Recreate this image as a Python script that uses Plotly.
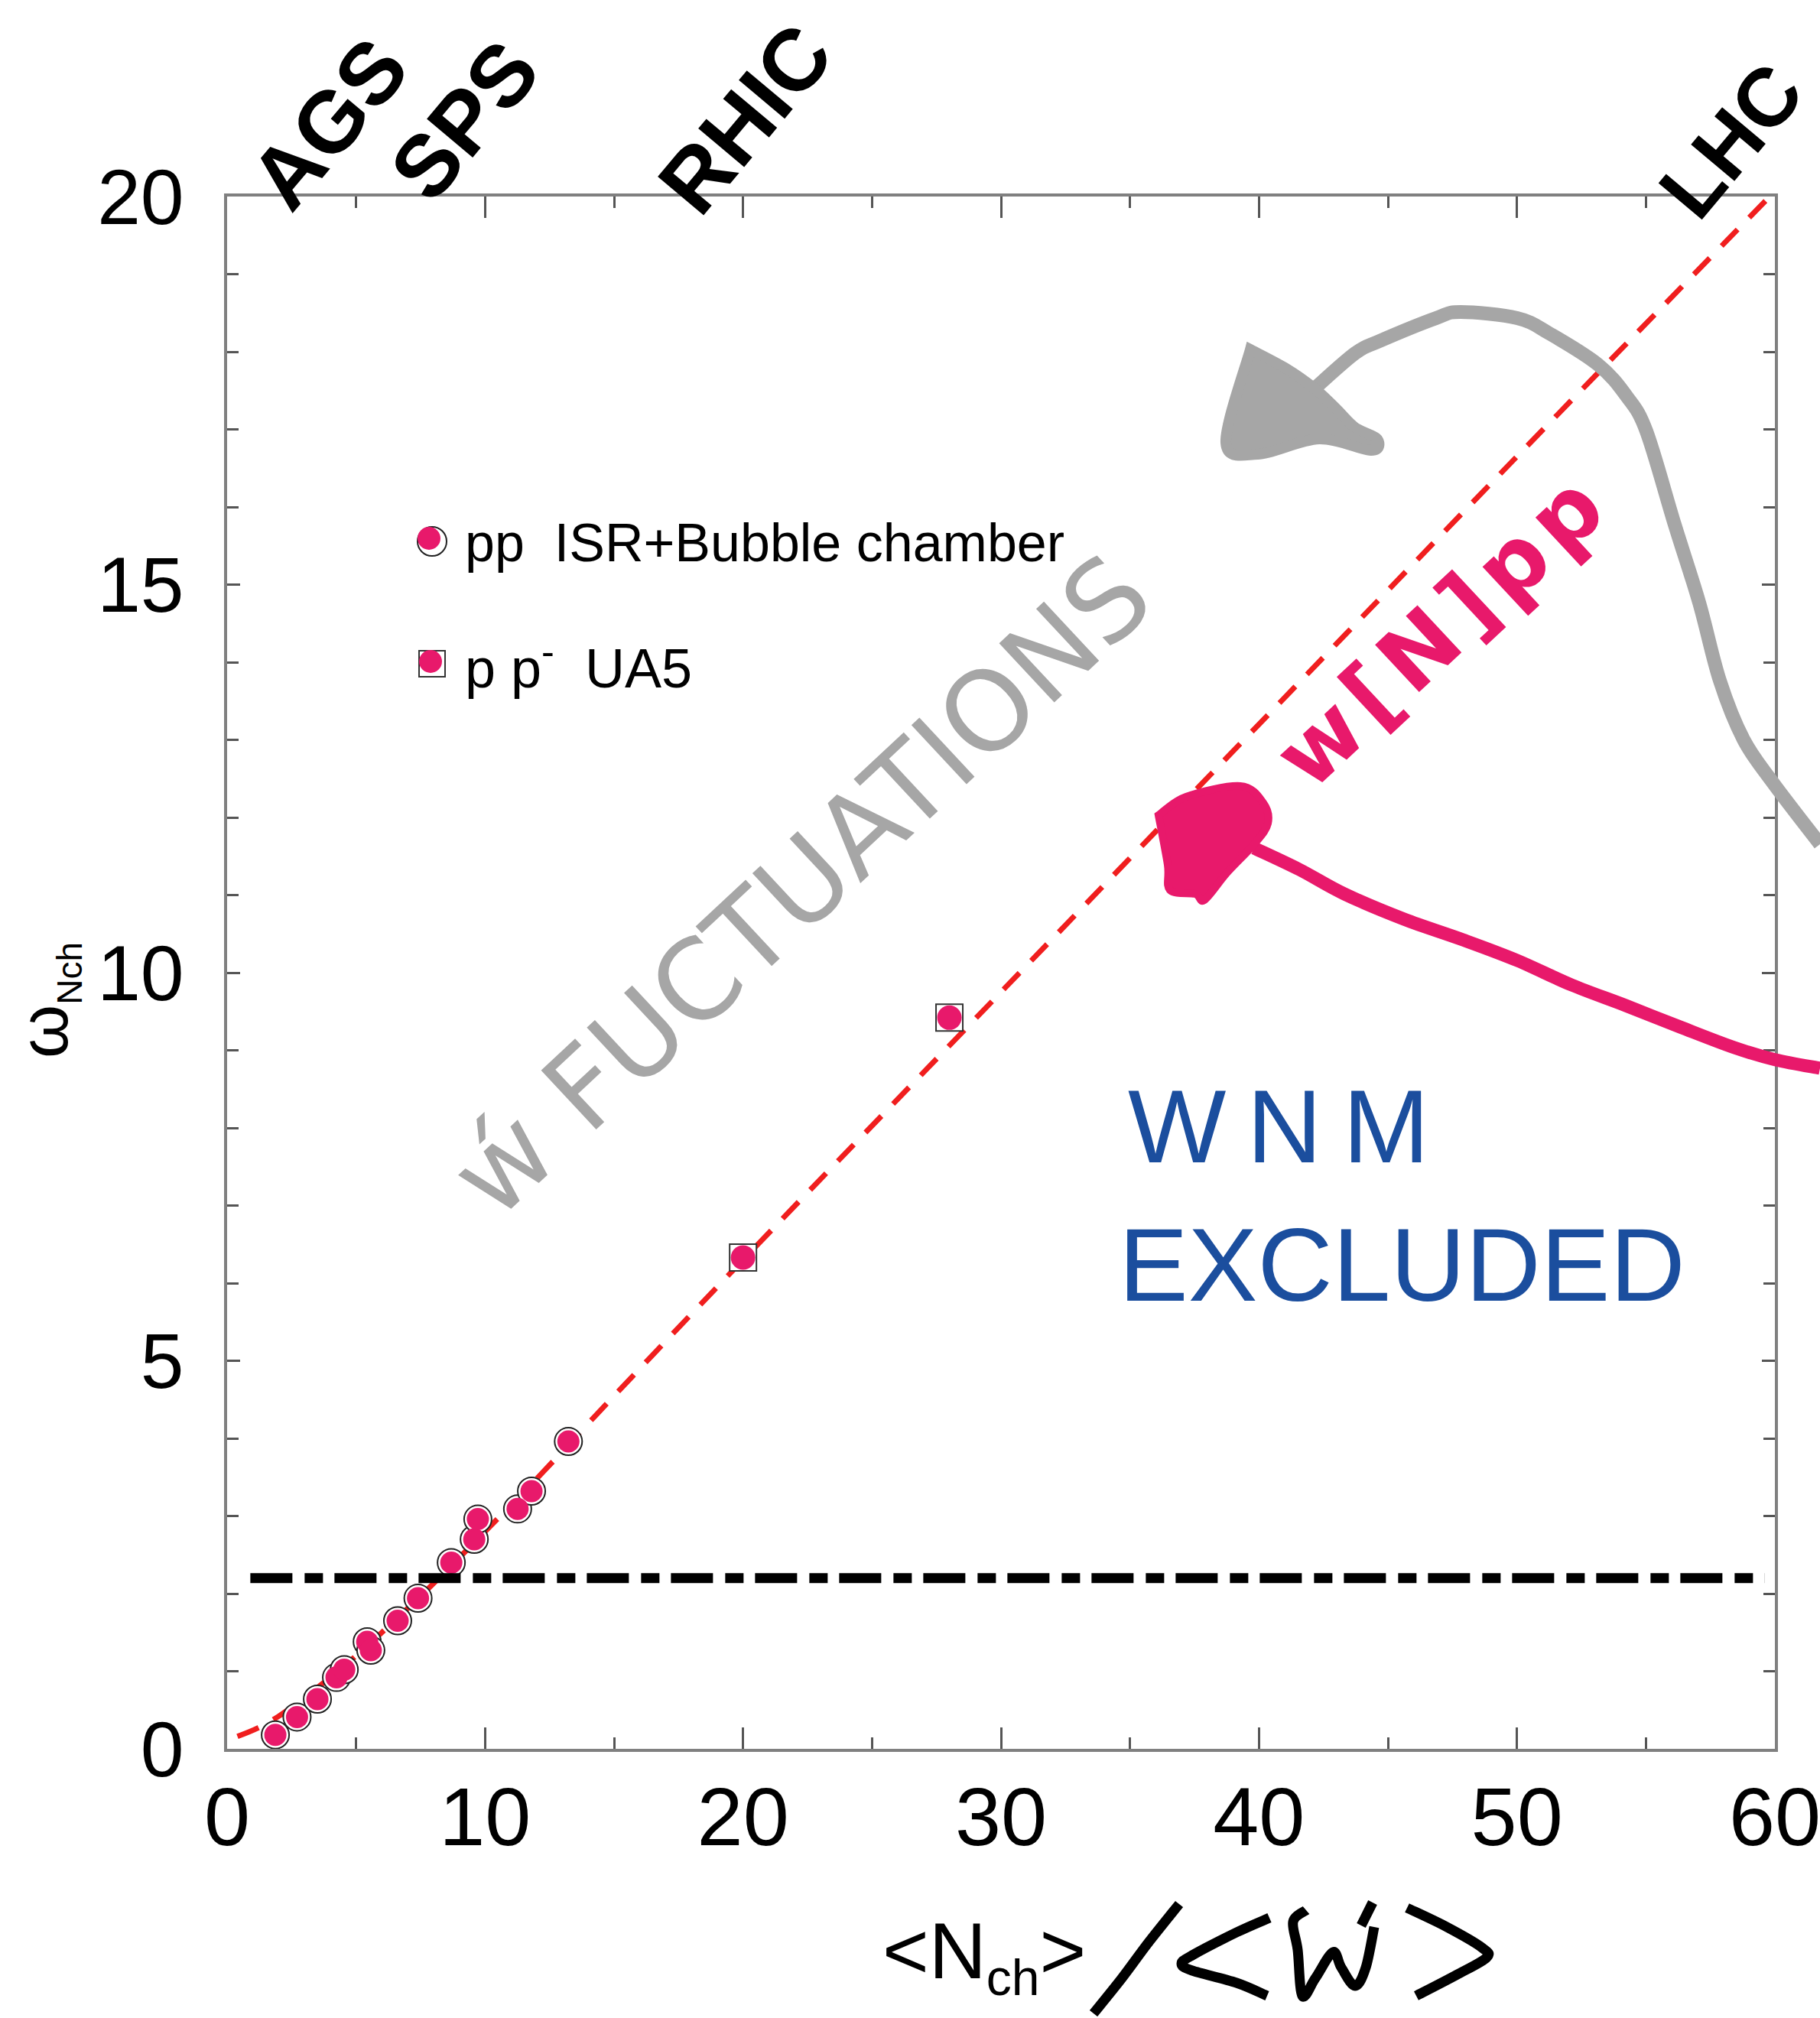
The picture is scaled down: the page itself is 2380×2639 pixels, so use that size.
import plotly.graph_objects as go

# ---------------------------------------------------------------- data ----
# pp ISR + bubble chamber points: <N_ch> vs omega_Nch
isr_n = [1.87, 2.71, 3.50, 4.24, 4.54, 5.43, 5.57, 6.61, 7.40, 8.69, 9.58, 9.72, 11.26, 11.80, 13.23]
isr_omega = [0.18, 0.41, 0.64, 0.92, 1.02, 1.38, 1.27, 1.65, 1.94, 2.40, 2.70, 2.96, 3.09, 3.32, 3.96]

# p pbar UA5 points
ua5_n = [20.0, 28.0]
ua5_omega = [6.33, 9.42]

# dashed fit curve
fit_n = [0.4, 1.2, 2.0, 3.0, 4.0, 5.0, 6.0, 7.0, 8.0, 10.0, 12.2, 14.3, 20.0, 30.0, 40.0, 50.0, 59.8]
fit_omega = [0.16, 0.27, 0.42, 0.66, 0.92, 1.20, 1.50, 1.81, 2.13, 2.80, 3.55, 4.30, 6.30, 9.75, 13.20, 16.65, 20.0]

# dash-dot reference level
level_n = [0.9, 59.6]
level_omega = [2.2, 2.2]

accelerators = ["AGS", "SPS", "RHIC", "LHC"]
legend_labels = ["pp\u00a0\u00a0ISR+Bubble chamber", "p\u00a0p<sup>-</sup>\u00a0\u00a0UA5"]

# ------------------------------------------------------------- geometry ---
W, H = 2380, 2639
ML, MR, MT, MB = 297, 59, 257, 352
PW, PH = W - ML - MR, H - MT - MB

PINK = "#E8196B"
RED = "#F01E1E"
GREY = "#A6A6A6"
BLUE = "#1B4E9E"
SANS = "Liberation Sans, Arial, Helvetica, sans-serif"
HAND = "DejaVu Sans, sans-serif"


def px(x):
    return (x - ML) / PW


def py(y):
    return (MT + PH - y) / PH


def smooth_path(pts, closed=False):
    P = [(px(x), py(y)) for x, y in pts]
    if closed:
        P = P + [P[0]]
    d = f"M {P[0][0]:.5f},{P[0][1]:.5f}"
    n = len(P)
    for i in range(n - 1):
        p0 = P[i - 1] if i > 0 else P[i]
        p1, p2 = P[i], P[i + 1]
        p3 = P[i + 2] if i + 2 < n else P[i + 1]
        c1 = (p1[0] + (p2[0] - p0[0]) / 6, p1[1] + (p2[1] - p0[1]) / 6)
        c2 = (p2[0] - (p3[0] - p1[0]) / 6, p2[1] - (p3[1] - p1[1]) / 6)
        d += (f" C {c1[0]:.5f},{c1[1]:.5f} {c2[0]:.5f},{c2[1]:.5f}"
              f" {p2[0]:.5f},{p2[1]:.5f}")
    if closed:
        d += " Z"
    return d


def stroke(pts, color, width, fill=None, closed=False):
    return dict(type="path", xref="paper", yref="paper",
                path=smooth_path(pts, closed),
                line=dict(color=color, width=width),
                fillcolor=fill if fill else "rgba(0,0,0,0)",
                layer="above")


def circle(cx, cy, r, fill, line_color=None, lw=0):
    return dict(type="circle", xref="paper", yref="paper",
                x0=px(cx - r), x1=px(cx + r), y0=py(cy + r), y1=py(cy - r),
                fillcolor=fill, line=dict(color=line_color or fill, width=lw),
                layer="above")


def rect(cx, cy, h, fill, line_color, lw):
    return dict(type="rect", xref="paper", yref="paper",
                x0=px(cx - h), x1=px(cx + h), y0=py(cy + h), y1=py(cy - h),
                fillcolor=fill, line=dict(color=line_color, width=lw),
                layer="above")


# ---------------------------------------------------------------- traces --
fig = go.Figure()

fig.add_trace(go.Scatter(
    x=fit_n, y=fit_omega, mode="lines", line_shape="spline",
    line=dict(color=RED, width=7, dash="30px,22px"),
    hoverinfo="skip", showlegend=False))

fig.add_trace(go.Scatter(
    x=isr_n, y=isr_omega, mode="markers",
    marker=dict(symbol="circle", size=36, color="white",
                line=dict(color="#222", width=2)),
    showlegend=False))
fig.add_trace(go.Scatter(
    x=isr_n, y=isr_omega, mode="markers",
    marker=dict(symbol="circle", size=29, color=PINK, line=dict(width=0)),
    showlegend=False))

fig.add_trace(go.Scatter(
    x=ua5_n, y=ua5_omega, mode="markers",
    marker=dict(symbol="square", size=35, color="white",
                line=dict(color="#333", width=2)),
    showlegend=False))
fig.add_trace(go.Scatter(
    x=ua5_n, y=ua5_omega, mode="markers",
    marker=dict(symbol="circle", size=32, color=PINK, line=dict(width=0)),
    showlegend=False))

fig.add_trace(go.Scatter(
    x=level_n, y=level_omega, mode="lines",
    line=dict(color="black", width=13, dash="55px,16px,24px,15px"),
    hoverinfo="skip", showlegend=False))

# ---------------------------------------------------------------- shapes --
shapes = []

# legend keys
shapes.append(circle(565, 708, 19, "white", "#222", 2))
shapes.append(circle(561, 704, 15, PINK))
shapes.append(rect(565, 868, 17, "white", "#333", 2))
shapes.append(circle(563, 865, 15, PINK))

# grey hand-drawn arrow
grey_arrow_stroke = [(2380, 1104), (2318, 1023), (2280, 967), (2249, 890), (2222, 788),
                     (2190, 686), (2153, 564), (2127, 518), (2090, 477), (2026, 436),
                     (1984, 416), (1910, 408), (1878, 416), (1804, 446), (1772, 462),
                     (1719, 508)]
grey_arrow_head = [(1635, 457), (1603, 579), (1645, 594), (1725, 574), (1793, 589),
                   (1801, 574), (1772, 559), (1746, 533), (1719, 508), (1682, 482)]
shapes.append(stroke(grey_arrow_stroke, GREY, 18))
shapes.append(stroke(grey_arrow_head, GREY, 14, fill=GREY, closed=True))

# pink hand-drawn arrow
pink_arrow_stroke = [(1640, 1109), (1699, 1137), (1758, 1169), (1836, 1202), (1913, 1229),
                     (1984, 1256), (2055, 1288), (2126, 1315), (2197, 1343), (2268, 1370),
                     (2322, 1386), (2380, 1397)]
pink_arrow_head = [(1515, 1066), (1551, 1042), (1622, 1028), (1652, 1050), (1658, 1077),
                   (1640, 1104), (1604, 1142), (1575, 1177), (1563, 1169), (1530, 1164),
                   (1527, 1131)]
shapes.append(stroke(pink_arrow_stroke, PINK, 17))
shapes.append(stroke(pink_arrow_head, PINK, 10, fill=PINK, closed=True))

# hand-written "/<w>" after the x title
slash_stroke = [(1430, 2633), (1467, 2587), (1502, 2540), (1542, 2490)]
lt_stroke = [(1660, 2508), (1617, 2527), (1559, 2557), (1545, 2568), (1559, 2577),
             (1617, 2593), (1657, 2610)]
w_stroke = [(1708, 2498), (1691, 2513), (1697, 2550), (1703, 2610), (1720, 2587),
            (1743, 2553), (1754, 2573), (1772, 2597), (1786, 2573), (1797, 2520)]
accent_stroke = [(1795, 2488), (1780, 2518)]
gt_stroke = [(1840, 2495), (1892, 2520), (1938, 2547), (1944, 2560), (1904, 2583),
             (1852, 2610)]
for s in (slash_stroke, lt_stroke, w_stroke, accent_stroke, gt_stroke):
    shapes.append(stroke(s, "black", 13))

# ----------------------------------------------------------- annotations --
ann = []


def label(text, cx, cy, size, color="black", family=SANS, angle=0,
          xanchor="center", weight="normal"):
    ann.append(dict(text=text, x=px(cx), y=py(cy), xref="paper", yref="paper",
                    xanchor=xanchor, yanchor="middle", showarrow=False,
                    textangle=angle,
                    font=dict(family=family, size=size, color=color, weight=weight)))


acc_pos = [(430, 162), (607, 157), (974, 155), (2264, 184)]
acc_size = [114, 114, 114, 108]
for name, (cx, cy), sz in zip(accelerators, acc_pos, acc_size):
    label(name, cx, cy, sz, angle=-50, weight="bold")

# axis titles
label("ω<sub><span style='font-size:46px'>Nch</span></sub>", 62, 1308, 90, angle=-90)
label("&lt;N<sub><span style='font-size:66px'>ch</span></sub>&gt;", 1287, 2558, 104)

# legend text
label(legend_labels[0], 606, 710, 70, xanchor="left")
label(legend_labels[1], 606, 868, 72, xanchor="left")

# hand-written notes
label("ẃ\u00a0FUCTUATIONS", 1047, 1158, 145, color=GREY, family=HAND, angle=-43)
label("w\u200a[\u200aN\u200a]\u200ap\u200ap", 1882, 826, 116, color=PINK,
      family=HAND, angle=-43, weight="bold")
label("W\u2009N\u2009M", 1473, 1473, 136, color=BLUE, xanchor="left")
label("EXCLUDED", 1461, 1654, 136, color=BLUE, xanchor="left")

# ---------------------------------------------------------------- layout --
axis_common = dict(showgrid=False, zeroline=False, showline=True,
                   linecolor="#808080", linewidth=4, mirror="ticks",
                   ticks="inside", tickcolor="#555", tickwidth=3,
                   ticklabeloverflow="allow")

fig.update_layout(
    width=W, height=H,
    margin=dict(l=ML, r=MR, t=MT, b=MB, autoexpand=False),
    paper_bgcolor="white", plot_bgcolor="white",
    xaxis=dict(range=[0, 60], tick0=0, dtick=10, ticklen=28,
               minor=dict(dtick=5, ticks="inside", ticklen=15,
                          tickcolor="#555", tickwidth=3, showgrid=False),
               tickfont=dict(family=SANS, size=108, color="black"),
               ticklabelstandoff=-8, **axis_common),
    yaxis=dict(range=[0, 20], tick0=0, dtick=5, ticklen=17,
               minor=dict(dtick=1, ticks="inside", ticklen=15,
                          tickcolor="#555", tickwidth=3, showgrid=False),
               tickfont=dict(family=SANS, size=102, color="black"),
               ticklabelstandoff=32, **axis_common),
    shapes=shapes,
    annotations=ann,
    showlegend=False,
)

fig.write_html("out.html")
